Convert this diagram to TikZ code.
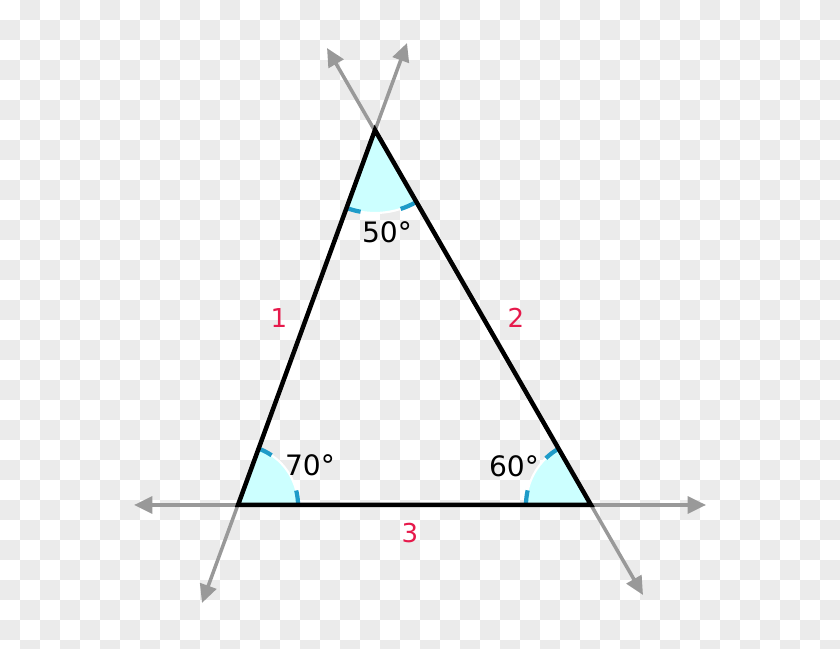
\documentclass[tikz,border=0pt]{standalone}
\usepackage{fontspec}
\setmainfont{DejaVu Sans}
\usetikzlibrary{arrows.meta}
\definecolor{checkgray}{HTML}{EBEBEB}
\definecolor{raygray}{HTML}{999999}
\definecolor{wedgefill}{HTML}{CCFFFF}
\definecolor{tickblue}{HTML}{1E9BC8}
\definecolor{sidered}{HTML}{E6194B}
\begin{document}
\begin{tikzpicture}[x=0.025cm,y=0.025cm,
  ray/.style={draw=raygray,line width=2.5pt,{Triangle[length=13pt,width=12pt]}-{Triangle[length=13pt,width=12pt]}},
  side/.style={draw=black,line width=3.2pt,line join=miter},
  wedge/.style={fill=wedgefill},
  tick/.style={draw=tickblue,line width=3pt},
  rim/.style={draw=white,line width=1.5pt},
  deg/.style={font=\fontsize{20}{24}\selectfont,inner sep=0pt},
  num/.style={font=\fontsize{18.5}{22}\selectfont,text=sidered,inner sep=0pt}]
\useasboundingbox (0,0) rectangle (840,649);
% checkered background
\begin{scope}
\clip (0,0) rectangle (840,649);
\foreach \i in {0,...,41}
  \foreach \j in {0,...,32}{
    \pgfmathtruncatemacro\odd{mod(\i+\j,2)}
    \ifnum\odd=1
      \fill[checkgray] (20*\i,649-20*\j-20) rectangle (20*\i+20,649-20*\j);
    \fi}
\end{scope}
% corners of the triangle
\coordinate (A) at (375,519);
\coordinate (B) at (238,144);
\coordinate (C) at (591,144);
% ends of the lines
\coordinate (BAtop) at (407,606);
\coordinate (BAbot) at (202,46);
\coordinate (CAtop) at (327,601);
\coordinate (CAbot) at (643,54);
\coordinate (BCleft) at (134,144);
\coordinate (BCright) at (706,144);
% angle wedges
\fill[wedge] (A) -- ++(250:83) arc[start angle=250,end angle=300,radius=83] -- cycle;
\fill[wedge] (B) -- ++(0:60) arc[start angle=0,end angle=70,radius=60] -- cycle;
\fill[wedge] (C) -- ++(120:65) arc[start angle=120,end angle=180,radius=65] -- cycle;
\draw[rim] (A) ++(250:83) arc[start angle=250,end angle=300,radius=83];
\draw[rim] (B) ++(0:60) arc[start angle=0,end angle=70,radius=60];
\draw[rim] (C) ++(120:65) arc[start angle=120,end angle=180,radius=65];
\draw[tick] (A) ++(250:83) arc[start angle=250,end angle=260,radius=83];
\draw[tick] (A) ++(288:83) arc[start angle=288,end angle=300,radius=83];
\draw[tick] (B) ++(0:60) arc[start angle=0,end angle=14,radius=60];
\draw[tick] (B) ++(56:60) arc[start angle=56,end angle=70,radius=60];
\draw[tick] (C) ++(120:65) arc[start angle=120,end angle=134,radius=65];
\draw[tick] (C) ++(167:65) arc[start angle=167,end angle=180,radius=65];
% lines through the sides
\draw[ray] (BAbot) -- (BAtop);
\draw[ray] (CAbot) -- (CAtop);
\draw[ray] (BCleft) -- (BCright);
% the triangle
\draw[side] (A) -- (B) -- (C) -- cycle;
% labels
\node[deg] (angA) at (387,417) {50°};
\node[deg] (angB) at (310,184) {70°};
\node[deg] (angC) at (514,183) {60°};
\node[num] (sideAB) at (279,331) {1};
\node[num] (sideAC) at (516,331) {2};
\node[num] (sideBC) at (410,116) {3};
\end{tikzpicture}
\end{document}
